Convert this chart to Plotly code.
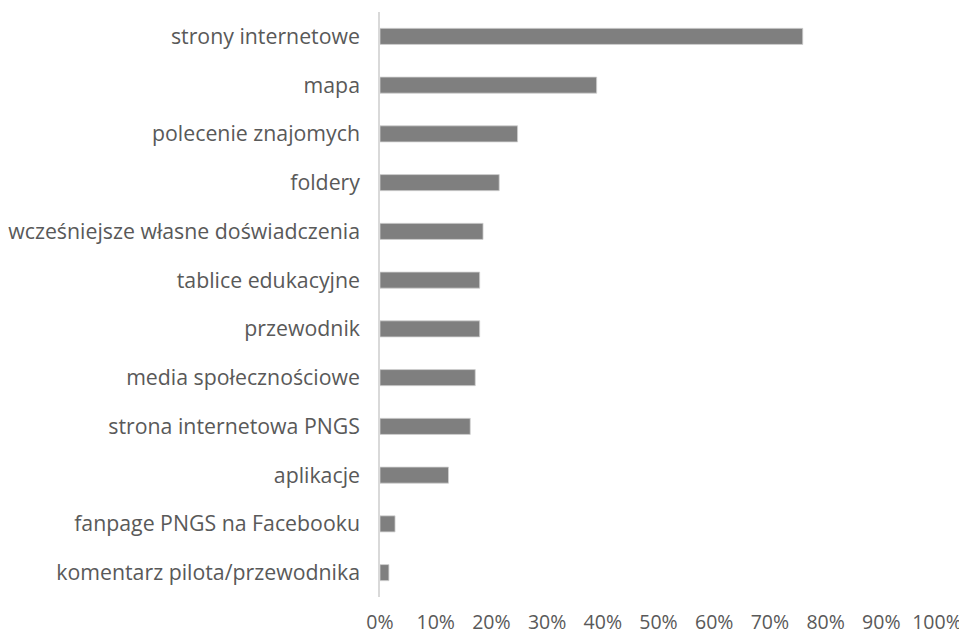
import plotly.graph_objects as go

categories = [
    "strony internetowe",
    "mapa",
    "polecenie znajomych",
    "foldery",
    "wcześniejsze własne doświadczenia",
    "tablice edukacyjne",
    "przewodnik",
    "media społecznościowe",
    "strona internetowa PNGS",
    "aplikacje",
    "fanpage PNGS na Facebooku",
    "komentarz pilota/przewodnika",
]
values = [75.9, 38.9, 24.7, 21.4, 18.5, 17.9, 17.9, 17.1, 16.2, 12.3, 2.7, 1.6]
x_ticks = [0, 10, 20, 30, 40, 50, 60, 70, 80, 90, 100]
x_labels = [f"{v}%" for v in x_ticks]

fig = go.Figure()
fig.add_trace(go.Bar(
    x=values,
    y=categories,
    orientation="h",
    marker=dict(color="#7f7f7f", line=dict(color="#d0d0d0", width=0.8)),
    width=0.33,
))

# the page body adds an 8px offset, margins compensate for it
fig.update_layout(
    width=967,
    height=637,
    paper_bgcolor="white",
    plot_bgcolor="white",
    showlegend=False,
    margin=dict(l=372, r=38, t=4, b=48, autoexpand=False),
    font=dict(family="Open Sans", size=21.3, color="#595959"),
    xaxis=dict(
        range=[0, 100],
        tickvals=x_ticks,
        ticktext=x_labels,
        ticklabeloverflow="allow",
        tickfont=dict(size=19.5),
        showgrid=False,
        zeroline=False,
        showline=False,
        ticks="outside",
        ticklen=8,
        tickcolor="rgba(0,0,0,0)",
        automargin=False,
    ),
    yaxis=dict(
        autorange="reversed",
        showgrid=False,
        zeroline=False,
        showline=True,
        linecolor="#d9d9d9",
        linewidth=1.5,
        ticks="outside",
        ticklen=14,
        tickcolor="rgba(0,0,0,0)",
        automargin=False,
    ),
)

fig.write_html("out.html")
